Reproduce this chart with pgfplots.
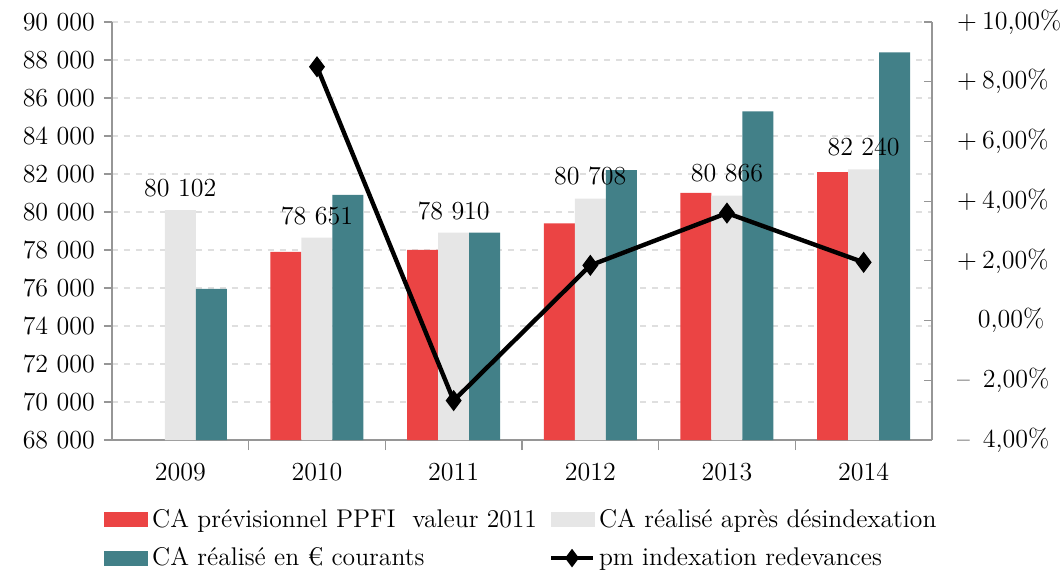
\documentclass[border=0pt]{standalone}
\usepackage{fontspec}
\usepackage{pgfplots}
\pgfplotsset{compat=1.18}
\definecolor{cred}{RGB}{235,68,68}
\definecolor{cgray}{RGB}{230,230,230}
\definecolor{cteal}{RGB}{66,128,136}
\definecolor{caxis}{RGB}{150,150,150}
\pgfplotsset{
  barleg/.style={legend image code/.code={\fill[##1] (0pt,-3.75pt) rectangle (22pt,3.75pt);}},
  lineleg/.style={legend image code/.code={\draw[mark repeat=2, mark phase=2, ##1, sharp plot] plot coordinates {(0pt,0pt) (10.5pt,0pt) (21pt,0pt)};}},
}
\begin{document}
\begin{tikzpicture}[font=\fontsize{13}{15}\selectfont]
\begin{axis}[
  name=main,
  scale only axis, width=410pt, height=209pt,
  xmin=-0.5, xmax=5.5, ymin=68000, ymax=90000,
  scaled y ticks=false,
  ybar=0pt, bar width=15.5pt,
  axis x line*=bottom, axis y line*=left,
  axis line style={draw=caxis, line width=0.8pt},
  every tick/.style={draw=caxis, line width=0.6pt},
  tick align=outside,
  xtick={0,...,5}, xticklabels={2009,2010,2011,2012,2013,2014},
  major x tick style={draw=none},
  minor xtick={0.5,1.5,2.5,3.5,4.5},
  minor tick length=5pt, major tick length=4pt,
  xticklabel style={yshift=-4pt},
  ytick={68000,70000,...,90000},
  yticklabels={68 000,70 000,72 000,74 000,76 000,78 000,80 000,82 000,84 000,86 000,88 000,90 000},
  yticklabel style={xshift=-1pt},
  ymajorgrids, major grid style={dashed, draw=gray!25, line width=0.6pt},
  legend columns=2,
  legend cell align=left,
  legend style={at={(-0.01,-0.155)}, anchor=north west, draw=none, fill=none,
    row sep=4.5pt, inner sep=0pt, /tikz/every even column/.append style={column sep=4pt},
    font=\fontsize{12.8}{15}\selectfont},
]
\addplot[fill=cred, draw=none, barleg]
  coordinates {(1,77900) (2,78000) (3,79400) (4,81000) (5,82100)};
\addlegendentry{CA prévisionnel PPFI\ \ valeur 2011}
\addplot[fill=cgray, draw=none, barleg,
  nodes near coords, point meta=explicit symbolic,
  nodes near coords style={text=black, yshift=3pt, font=\fontsize{13}{15}\selectfont}]
  coordinates {(0,80102)[80 102] (1,78651)[78 651] (2,78910)[78 910] (3,80708)[80 708] (4,80866)[80 866] (5,82240)[82 240]};
\addlegendentry{CA réalisé après désindexation}
\addplot[fill=cteal, draw=none, barleg]
  coordinates {(0,75950) (1,80900) (2,78910) (3,82200) (4,85300) (5,88400)};
\addlegendentry{CA réalisé en € courants}
\addlegendimage{black, line width=2pt, mark=diamond*, mark size=3pt, mark options={fill=black}, lineleg}
\addlegendentry{pm indexation redevances}
\end{axis}
\begin{axis}[
  scale only axis, width=410pt, height=209pt,
  xmin=-0.5, xmax=5.5, ymin=-4, ymax=10,
  axis x line=none, axis y line*=right,
  axis line style={draw=caxis, line width=0.8pt},
  every tick/.style={draw=caxis, line width=0.6pt},
  tick align=inside, major tick length=4pt,
  ytick={-4,-2,...,10},
  yticklabels={{–\hspace{0.5em}4,00\%},{–\hspace{0.5em}2,00\%},{\hspace{0.8em}0,00\%},{+\hspace{0.2em}2,00\%},{+\hspace{0.2em}4,00\%},{+\hspace{0.2em}6,00\%},{+\hspace{0.2em}8,00\%},{+\hspace{0.2em}10,00\%}},
  yticklabel style={anchor=west, xshift=9pt},
]
\addplot[black, line width=2.2pt, mark=diamond*, mark size=3.5pt, mark options={fill=black}]
  coordinates {(1,8.5) (2,-2.68) (3,1.85) (4,3.6) (5,1.95)};
\end{axis}
\pgfresetboundingbox
\path[use as bounding box] (main.south west) ++(-56pt,-66.5pt) rectangle ++(530.5pt,286.5pt);
\end{tikzpicture}
\end{document}
